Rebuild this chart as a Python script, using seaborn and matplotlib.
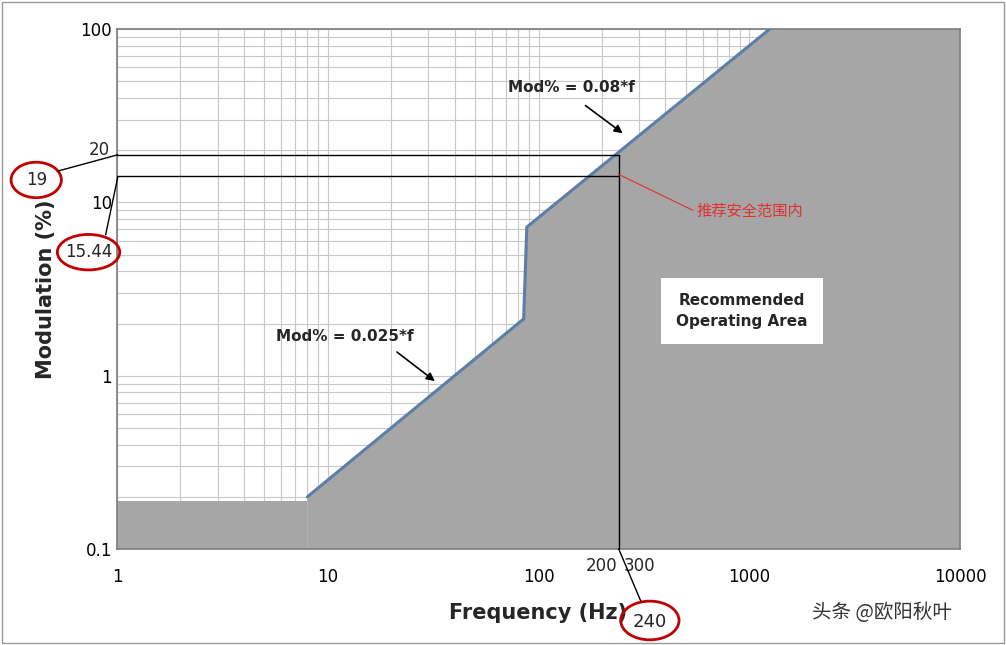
import matplotlib
matplotlib.use("Agg")
import matplotlib.pyplot as plt
import seaborn as sns
import numpy as np
from matplotlib.patches import Ellipse

sns.set_theme(style="white")
plt.rcParams['font.family'] = ['DejaVu Sans', 'Noto Sans CJK SC']

# data
line_f = [8, 85, 88, 1250]
line_mod = [0.2, 2.125, 7.2, 100]
floor_f = [1, 8]
floor_mod = 0.19
point_f = 240
point_mod = [18.8, 14.1]   # as drawn in the picture (labelled 19 and 15.44)

fig = plt.figure(figsize=(10.06, 6.45), dpi=100)
ax = fig.add_axes([0.1163, 0.1488, 0.8380, 0.8062])
ax.set_xscale('log'); ax.set_yscale('log')
ax.set_xlim(1, 10000); ax.set_ylim(0.1, 100)

ax.grid(True, which='both', color='#c8c8c8', lw=0.8)
ax.set_axisbelow(True)

ax.fill_between(floor_f, 0.1, floor_mod, color='#a6a6a6', lw=0, zorder=1)
poly_f = line_f + [10000, 10000, 8]
poly_m = line_mod + [100, 0.1, 0.1]
ax.fill(poly_f, poly_m, color='#a6a6a6', lw=0, zorder=1)
sns.lineplot(x=line_f, y=line_mod, sort=False, color='#5b7fa6', lw=2.2, ax=ax, zorder=3)

for m in point_mod:
    ax.plot([1, point_f], [m, m], color='black', lw=1, zorder=4)
ax.plot([point_f, point_f], [0.1, point_mod[0]], color='black', lw=1, zorder=4)

for s in ax.spines.values():
    s.set_color('#808080')
ax.set_xticks([1, 10, 100, 1000, 10000]); ax.set_xticklabels(['1', '10', '100', '1000', '10000'])
ax.set_yticks([0.1, 1, 10, 100]); ax.set_yticklabels(['0.1', '1', '10', '100'])
ax.tick_params(which='both', length=0, labelsize=12, colors='black')
ax.tick_params(axis='x', pad=14)
ax.set_xlabel('Frequency (Hz)', fontsize=15, fontweight='bold', labelpad=12)
ax.set_ylabel('Modulation (%)', fontsize=15, fontweight='bold', labelpad=18)

ax.text(0.93, 20, '20', fontsize=12, ha='right', va='center')
ax.text(200, 0.09, '200', fontsize=12, ha='center', va='top')
ax.text(300, 0.09, '300', fontsize=12, ha='center', va='top')

ax.text(12.1, 1.69, 'Mod% = 0.025*f', fontsize=11, fontweight='bold', ha='center', va='center')
ax.annotate('', xy=(33, 0.91), xytext=(20.8, 1.4), arrowprops=dict(arrowstyle='-|>', color='black', lw=1.2))
ax.text(144, 46, 'Mod% = 0.08*f', fontsize=11, fontweight='bold', ha='center', va='center')
ax.annotate('', xy=(257, 24.5), xytext=(163, 37), arrowprops=dict(arrowstyle='-|>', color='black', lw=1.2))

ax.text(925, 2.36, 'Recommended\nOperating Area', fontsize=11, fontweight='bold', ha='center', va='center',
        linespacing=1.5, bbox=dict(boxstyle='square,pad=1.0', fc='white', ec='none'))

ax.plot([point_f, 540], [14.5, 9.0], color='#e03030', lw=0.8, zorder=5)
ax.text(565, 8.9, '推荐安全范围内', color='#e03030', fontsize=11, va='center', family=['Noto Sans CJK SC'])

fig.text(0.036, 0.721, '19', fontsize=12, ha='center', va='center')
fig.add_artist(Ellipse((0.036, 0.721), 0.05, 0.055, transform=fig.transFigure, fill=False, ec='#c00000', lw=2))
fig.text(0.088, 0.609, '15.44', fontsize=12, ha='center', va='center')
fig.add_artist(Ellipse((0.088, 0.609), 0.062, 0.055, transform=fig.transFigure, fill=False, ec='#c00000', lw=2))
fig.text(0.646, 0.036, '240', fontsize=13, ha='center', va='center')
fig.add_artist(Ellipse((0.646, 0.038), 0.058, 0.06, transform=fig.transFigure, fill=False, ec='#c00000', lw=2))
fig.add_artist(plt.Line2D([0.058, 0.117], [0.735, 0.760], color='black', lw=1, transform=fig.transFigure))
fig.add_artist(plt.Line2D([0.105, 0.117], [0.636, 0.725], color='black', lw=1, transform=fig.transFigure))
fig.add_artist(plt.Line2D([0.615, 0.637], [0.149, 0.068], color='black', lw=1, transform=fig.transFigure))

fig.text(0.877, 0.05, '头条 @欧阳秋叶', fontsize=14, color='#333333', ha='center', va='center',
         family=['Noto Sans CJK SC'])
fig.add_artist(plt.Rectangle((0.002, 0.003), 0.996, 0.994, transform=fig.transFigure, fill=False, ec='#999999', lw=1))
fig.savefig('out.png', dpi=100)
